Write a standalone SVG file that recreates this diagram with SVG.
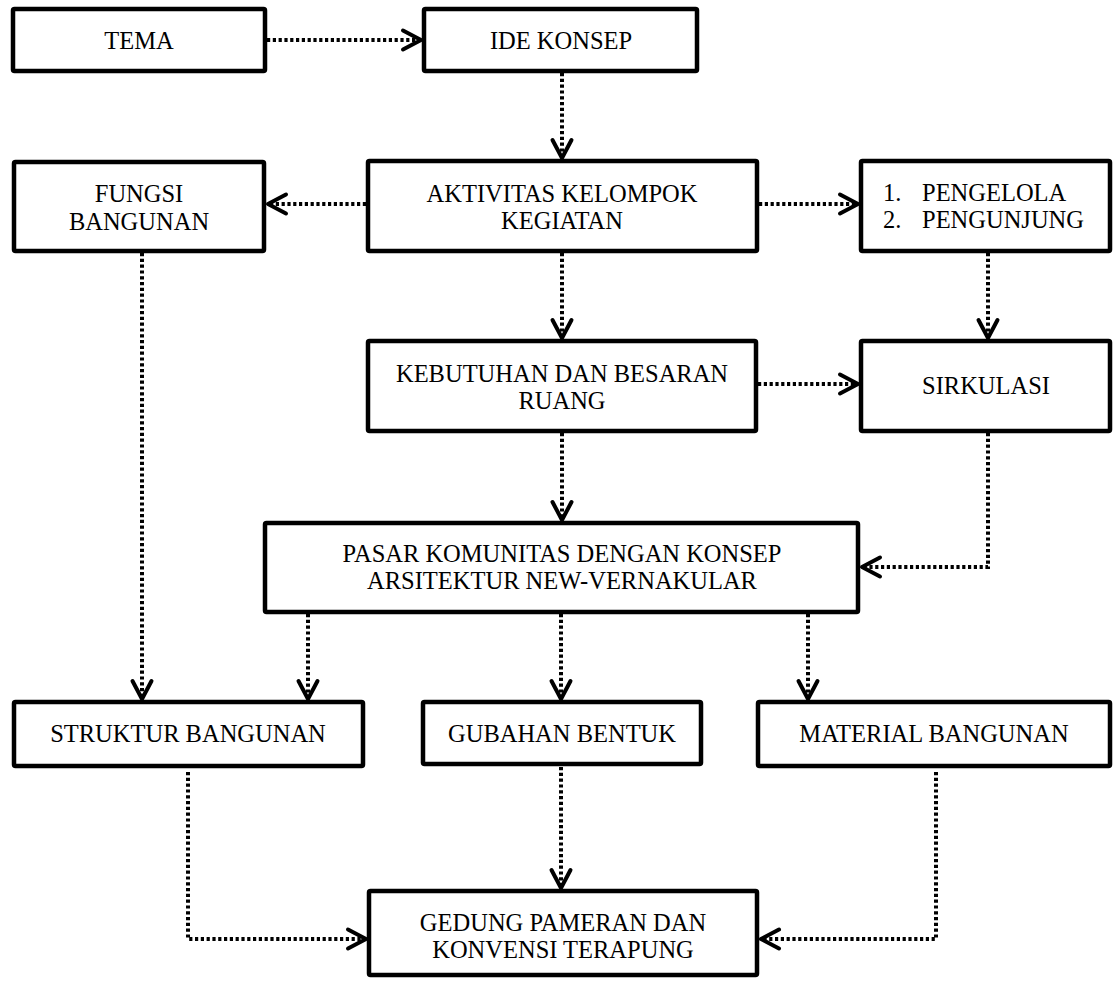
<svg xmlns="http://www.w3.org/2000/svg" width="1113" height="981" viewBox="0 0 1113 981">
<style>
.box{fill:#fff;stroke:#000;stroke-width:4.5}
.t{font-family:"Liberation Serif","Times New Roman",serif;font-size:24.5px;fill:#000;text-anchor:middle}
.tl{font-family:"Liberation Serif","Times New Roman",serif;font-size:24.5px;fill:#000}
.c{fill:none;stroke:#000;stroke-width:4;stroke-dasharray:3.2 2.6;marker-end:url(#ah)}
</style>
<defs>
<marker id="ah" markerUnits="userSpaceOnUse" viewBox="-24 -14 28 28" refX="0" refY="0" markerWidth="28" markerHeight="28" orient="auto" overflow="visible">
<path d="M-18,-9.5 L0,0 L-18,9.5" fill="none" stroke="#000" stroke-width="4" stroke-linecap="round" stroke-linejoin="round" stroke-dasharray="none"/>
</marker>
</defs>
<rect width="1113" height="981" fill="#fff"/>
<g id="connectors">
<path class="c" d="M267,40 H421"/>
<path class="c" d="M562,73 V158"/>
<path class="c" d="M366,204 H268"/>
<path class="c" d="M759,204 H858"/>
<path class="c" d="M562,253 V338"/>
<path class="c" d="M988,253 V338"/>
<path class="c" d="M758,384 H858"/>
<path class="c" d="M562,433 V520"/>
<path class="c" d="M988,433 V567 H862"/>
<path class="c" d="M142,253 V699"/>
<path class="c" d="M308,614 V699"/>
<path class="c" d="M561,614 V699"/>
<path class="c" d="M808,614 V699"/>
<path class="c" d="M188,772 V939 H366"/>
<path class="c" d="M561,767 V888"/>
<path class="c" d="M936,772 V939 H761"/>
</g>
<g id="tema"><rect class="box" x="13" y="9" width="252" height="62" rx="1.5"/><text class="t" x="139" y="48.5">TEMA</text></g>
<g id="ide-konsep"><rect class="box" x="424" y="9" width="273" height="62" rx="1.5"/><text class="t" x="561" y="48.5">IDE KONSEP</text></g>
<g id="fungsi-bangunan"><rect class="box" x="14" y="162" width="250" height="89" rx="1.5"/><text class="t" x="139" y="202">FUNGSI</text><text class="t" x="139" y="230">BANGUNAN</text></g>
<g id="aktivitas"><rect class="box" x="368" y="161" width="389" height="90" rx="1.5"/><text class="t" x="562" y="202">AKTIVITAS KELOMPOK</text><text class="t" x="562" y="229">KEGIATAN</text></g>
<g id="pengguna"><rect class="box" x="861" y="161" width="249" height="90" rx="1.5"/><text class="tl" x="883" y="201">1.</text><text class="tl" x="922" y="201">PENGELOLA</text><text class="tl" x="883" y="228">2.</text><text class="tl" x="922" y="228">PENGUNJUNG</text></g>
<g id="kebutuhan"><rect class="box" x="368" y="341" width="388" height="90" rx="1.5"/><text class="t" x="562" y="382">KEBUTUHAN DAN BESARAN</text><text class="t" x="562" y="409">RUANG</text></g>
<g id="sirkulasi"><rect class="box" x="861" y="341" width="249" height="90" rx="1.5"/><text class="t" x="986" y="394">SIRKULASI</text></g>
<g id="pasar"><rect class="box" x="265" y="523" width="593" height="89" rx="1.5"/><text class="t" x="562" y="562">PASAR KOMUNITAS DENGAN KONSEP</text><text class="t" x="562" y="589">ARSITEKTUR NEW-VERNAKULAR</text></g>
<g id="struktur"><rect class="box" x="14" y="702" width="349" height="64" rx="1.5"/><text class="t" x="188" y="742">STRUKTUR BANGUNAN</text></g>
<g id="gubahan"><rect class="box" x="423" y="702" width="278" height="62" rx="1.5"/><text class="t" x="562" y="742">GUBAHAN BENTUK</text></g>
<g id="material"><rect class="box" x="758" y="702" width="352" height="64" rx="1.5"/><text class="t" x="934" y="742">MATERIAL BANGUNAN</text></g>
<g id="gedung"><rect class="box" x="369" y="891" width="388" height="84" rx="1.5"/><text class="t" x="563" y="931">GEDUNG PAMERAN DAN</text><text class="t" x="563" y="958">KONVENSI TERAPUNG</text></g>
</svg>
